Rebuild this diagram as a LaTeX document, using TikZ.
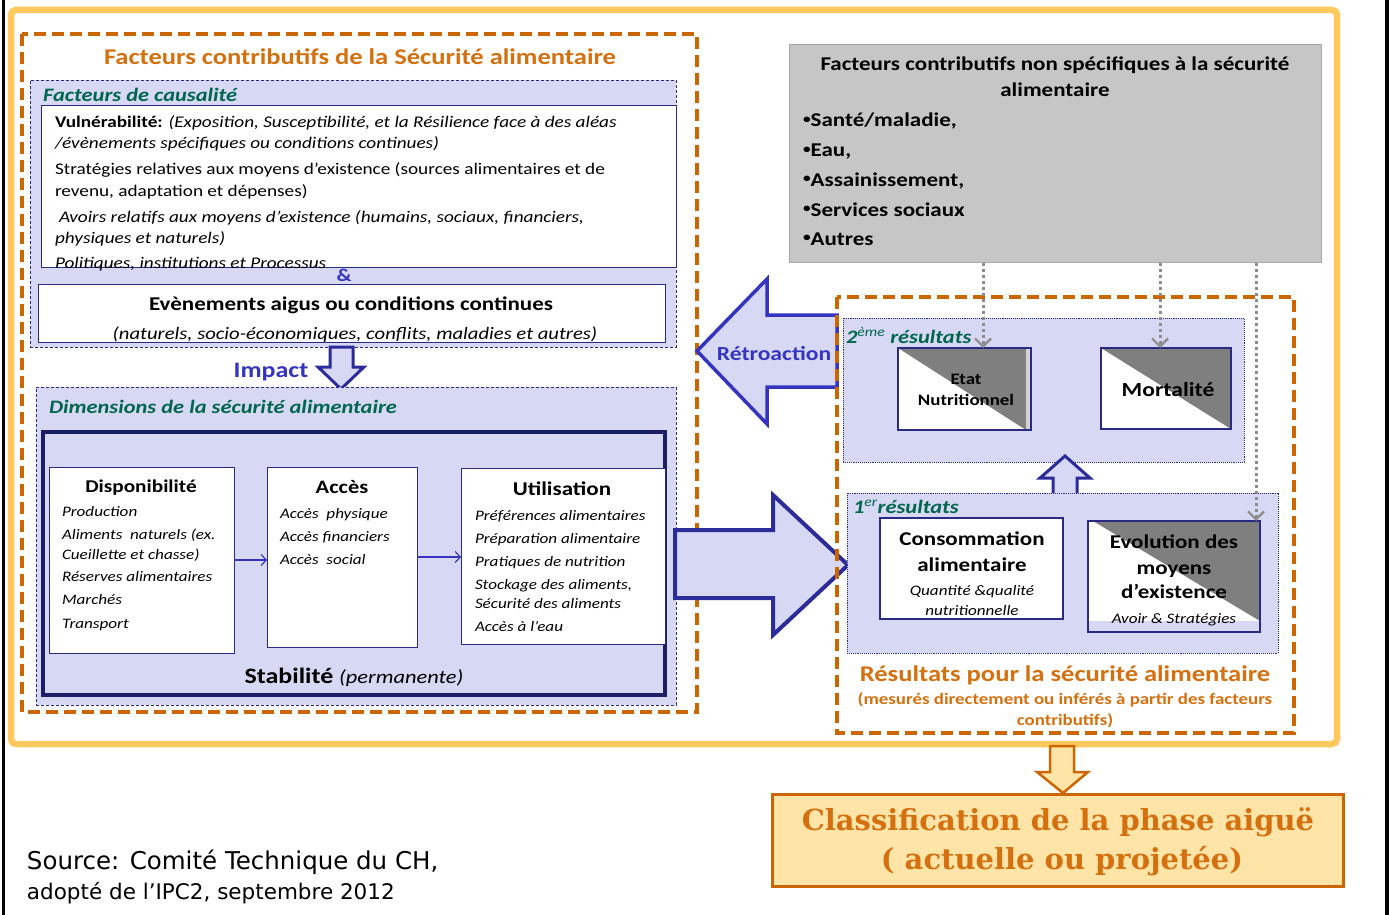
\documentclass[tikz,border=0pt]{standalone}
\usepackage{fontspec}
\setmainfont{Carlito}[FakeStretch=1.18]
\newfontfamily\srcfont{DejaVu Sans}
\newfontfamily\clsfont{DejaVu Serif}
\usetikzlibrary{arrows.meta}
\definecolor{frameY}{HTML}{FFC95E}
\definecolor{dashO}{HTML}{CC6600}
\definecolor{titleO}{HTML}{D5700F}
\definecolor{lav}{HTML}{D6D8F4}
\definecolor{navy}{HTML}{2A2A85}
\definecolor{deepnavy}{HTML}{1E1E66}
\definecolor{arrowB}{HTML}{2B2B99}
\definecolor{textB}{HTML}{3434C0}
\definecolor{greenT}{HTML}{00664D}
\definecolor{greyBox}{HTML}{C6C6C6}
\definecolor{triG}{HTML}{7F7F7F}
\definecolor{dotG}{HTML}{8C8C8C}
\definecolor{peach}{HTML}{FFE4A8}
\newcommand{\fsz}[1]{\fontsize{#1}{#1}\selectfont}
\newcommand{\bdot}{\raisebox{3.5pt}{\fsz{13}•}}
\begin{document}
\begin{tikzpicture}[x=1pt,y=-1pt,
  every node/.style={inner sep=0pt,outer sep=0pt},
  orangedash/.style={draw=dashO,line width=4pt,dash pattern=on 12pt off 6pt},
  lavbox/.style={draw=navy,fill=lav,line width=0.8pt,densely dashed},
  lavdot/.style={draw=navy,fill=lav,line width=0.9pt,densely dotted},
  whitebox/.style={draw=navy,fill=white,line width=1pt},
  rbox/.style={draw=navy,fill=white,line width=1.5pt},
  hollow/.style={draw=arrowB,fill=lav,line width=3pt,line join=miter},
  dotarrow/.style={draw=dotG,line width=3pt,dash pattern=on 3pt off 3pt,-{Straight Barb[length=8pt,width=16pt,line width=2.2pt]}},
  thinarrow/.style={draw=textB,line width=1.2pt,-{Straight Barb[length=5pt,width=11pt]}},
  grn/.style={text=greenT,font=\fsz{19}\bfseries\itshape},
  item/.style={anchor=base west,font=\fsz{14.5}\itshape},
  bul/.style={anchor=base west,font=\fsz{19.5}\bfseries}
]
\useasboundingbox (0,0) rectangle (1389,915);
\fill[white] (0,0) rectangle (1389,915);
\fill[black] (1.5,0) rectangle (5,915);
\fill[black] (1385,0) rectangle (1389,915);

% outer yellow frame
\draw[frameY,line width=6.5pt,rounded corners=5pt] (11,10) rectangle (1337,744);

% left orange dashed group
\draw[orangedash] (22,34) rectangle (697,712);
\node[anchor=base,text=titleO,font=\fsz{22.5}\bfseries] (ttl) at (360,65) {Facteurs contributifs de la Sécurité alimentaire};

% causal box
\node[lavbox,anchor=north west,minimum width=646pt,minimum height=267pt] (causal) at (30,80) {};
\node[grn,anchor=base west] (causalT) at (43,102) {Facteurs de causalité};
\node[whitebox,anchor=north west,minimum width=635pt,minimum height=161pt] (vuln) at (41,106) {};
\begin{scope}[every node/.append style={anchor=base west,font=\fsz{16.3}}]
\node (v1) at (55,128) {\textbf{Vulnérabilité:} \textit{(Exposition, Susceptibilité, et la Résilience face à des aléas}};
\node (v2) at (55,149) {\textit{/évènements spécifiques ou conditions continues)}};
\node (v3) at (55,175) {Stratégies relatives aux moyens d’existence (sources alimentaires et de};
\node (v4) at (55,196) {revenu, adaptation et dépenses)};
\node (v5) at (59,222) {\textit{Avoirs relatifs aux moyens d’existence (humains, sociaux, financiers,}};
\node (v6) at (55,243) {\textit{physiques et naturels)}};
\node (v7) at (55,268) {\textit{Politiques, institutions et Processus}};
\end{scope}
\node[anchor=base,text=textB,font=\fsz{18}\bfseries] (amp) at (344,281) {\&};
\node[whitebox,anchor=north west,minimum width=627pt,minimum height=58pt] (events) at (38,284) {};
\node[anchor=base,font=\fsz{19.5}\bfseries] (evT) at (351,310) {Evènements aigus ou conditions continues};
\node[anchor=base,font=\fsz{17.5}\itshape] (evS) at (355,339) {(naturels, socio-économiques, conflits, maladies et autres)};

% impact arrow
\draw[hollow] (330,347) -- (353,347) -- (353,367) -- (364,367) -- (341,389) -- (318,367) -- (330,367) -- cycle;
\node[anchor=base,text=textB,font=\fsz{22}\bfseries] (impact) at (271,377) {Impact};

% dimensions box
\node[lavbox,anchor=north west,minimum width=640pt,minimum height=318pt] (dims) at (36,387) {};
\node[grn,anchor=base west] (dimsT) at (49,413) {Dimensions de la sécurité alimentaire};
\node[draw=deepnavy,fill=lav,line width=4pt,anchor=north west,minimum width=622pt,minimum height=263pt] (stab) at (43,432) {};

\node[whitebox,anchor=north west,minimum width=185pt,minimum height=186pt] (dispo) at (49,467) {};
\node[whitebox,anchor=north west,minimum width=150pt,minimum height=180pt] (acces) at (267,467) {};
\node[whitebox,anchor=north west,minimum width=204pt,minimum height=176pt] (util) at (461,468) {};

\node[anchor=base,font=\fsz{18}\bfseries] (dispoT) at (141,492) {Disponibilité};
\node[item] (d1) at (62,516) {Production};
\node[item] (d2) at (62,539) {Aliments\ \ naturels (ex.};
\node[item] (d3) at (62,559) {Cueillette et chasse)};
\node[item] (d4) at (62,581) {Réserves alimentaires};
\node[item] (d5) at (62,604) {Marchés};
\node[item] (d6) at (62,628) {Transport};

\node[anchor=base,font=\fsz{19}\bfseries] (accesT) at (342,493) {Accès};
\node[item] (a1) at (280,518) {Accès\ \ physique};
\node[item] (a2) at (280,541) {Accès financiers};
\node[item] (a3) at (280,564) {Accès\ \ social};

\node[anchor=base,font=\fsz{19.5}\bfseries] (utilT) at (562,495) {Utilisation};
\node[item] (u1) at (475,520) {Préférences alimentaires};
\node[item] (u2) at (475,543) {Préparation alimentaire};
\node[item] (u3) at (475,566) {Pratiques de nutrition};
\node[item] (u4) at (475,589) {Stockage des aliments,};
\node[item] (u5) at (475,608) {Sécurité des aliments};
\node[item] (u6) at (475,631) {Accès à l’eau};

\draw[thinarrow] (dispo.east) -- (acces.west |- dispo.east);
\draw[thinarrow] (acces.east) -- (util.west |- acces.east);

\node[anchor=base,font=\fsz{22}\bfseries] (stabT) at (354,683) {Stabilité \fsz{19}\mdseries\itshape(permanente)};

% big right arrow
\draw[hollow,line width=4pt] (675,530) -- (773,530) -- (773,495) -- (848,565) -- (773,635) -- (773,598) -- (675,598) -- cycle;
% retroaction arrow
\draw[hollow,draw=textB,line width=3.5pt] (837,315) -- (767,315) -- (767,279) -- (697,351) -- (767,424) -- (767,387) -- (837,387) -- cycle;
\node[anchor=base,text=textB,font=\fsz{20}\bfseries] (retro) at (774,360) {Rétroaction};

% grey box
\node[draw=greyBox!85!black,fill=greyBox,line width=0.5pt,anchor=north west,minimum width=532pt,minimum height=218pt] (grey) at (789,44) {};
\node[anchor=base,font=\fsz{19.5}\bfseries] (g1) at (1055,71) {Facteurs contributifs non spécifiques à la sécurité};
\node[anchor=base,font=\fsz{19.5}\bfseries] (g2) at (1055,97) {alimentaire};
\node[bul] (b1) at (803,127) {\bdot Santé/maladie,};
\node[bul] (b2) at (803,157) {\bdot Eau,};
\node[bul] (b3) at (803,186) {\bdot Assainissement,};
\node[bul] (b4) at (803,216) {\bdot Services sociaux};
\node[bul] (b5) at (803,245) {\bdot Autres};

% right orange dashed group
\node[lavdot,anchor=north west,minimum width=401pt,minimum height=144pt] (res2) at (843,318) {};
\node[grn,anchor=base west] (res2T) at (846,343) {2\textsuperscript{\mdseries ème} résultats};

\node[rbox,anchor=north west,minimum width=133pt,minimum height=82pt] (etat) at (898,348) {};
\fill[triG] (898,348) -- (1026,348) -- (1026,430) -- cycle;
\fill[gray!35] (1026,348) rectangle (1031,430);
\draw[navy,line width=1.5pt] (etat.north west) rectangle (etat.south east);
\node[anchor=base,font=\fsz{16}\bfseries] (etat1) at (966,384) {Etat};
\node[anchor=base,font=\fsz{16}\bfseries] (etat2) at (966,405) {Nutritionnel};

\node[rbox,anchor=north west,minimum width=130pt,minimum height=81pt] (mort) at (1101,348) {};
\fill[triG] (1101,348) -- (1231,348) -- (1231,429) -- cycle;
\draw[navy,line width=1.5pt] (mort.north west) rectangle (mort.south east);
\node[anchor=base,font=\fsz{20}\bfseries] (mortT) at (1168,396) {Mortalité};

% up arrow
\draw[hollow] (1053,498) -- (1077,498) -- (1077,478) -- (1090,478) -- (1065,456) -- (1040,478) -- (1053,478) -- cycle;

\node[lavdot,anchor=north west,minimum width=431pt,minimum height=160pt] (res1) at (847,493) {};
\node[grn,anchor=base west] (res1T) at (853,513) {1\textsuperscript{\mdseries er}résultats};

\node[rbox,anchor=north west,minimum width=183pt,minimum height=101pt] (conso) at (880,518) {};
\node[anchor=base,font=\fsz{19.5}\bfseries] (c1) at (972,545) {Consommation};
\node[anchor=base,font=\fsz{19.5}\bfseries] (c2) at (972,571) {alimentaire};
\node[anchor=base,font=\fsz{14.5}\itshape] (c3) at (972,595) {Quantité \&qualité};
\node[anchor=base,font=\fsz{14.5}\itshape] (c4) at (972,615) {nutritionnelle};

\node[draw=navy,fill=lav,line width=1.5pt,anchor=north west,minimum width=172pt,minimum height=111pt] (evol) at (1088,521) {};
\fill[white] (1088,521) rectangle (1260,621);
\fill[triG] (1093,521) -- (1260,521) -- (1260,621) -- cycle;
\draw[navy,line width=1.5pt] (evol.north west) rectangle (evol.south east);
\node[anchor=base,font=\fsz{19.5}\bfseries] (e1) at (1174,548) {Evolution des};
\node[anchor=base,font=\fsz{19.5}\bfseries] (e2) at (1174,574) {moyens};
\node[anchor=base,font=\fsz{19.5}\bfseries] (e3) at (1174,598) {d’existence};
\node[anchor=base,font=\fsz{14.5}\itshape] (e4) at (1174,623) {Avoir \& Stratégies};

\node[anchor=base,text=titleO,font=\fsz{22.5}\bfseries] (resT) at (1065,681) {Résultats pour la sécurité alimentaire};
\node[anchor=base,text=titleO,font=\fsz{16}\bfseries] (resS1) at (1065,704) {(mesurés directement ou inférés à partir des facteurs};
\node[anchor=base,text=titleO,font=\fsz{16}\bfseries] (resS2) at (1065,725) {contributifs)};

\draw[orangedash] (837,297) rectangle (1294,733);

% dotted connectors
\coordinate (p1) at (983,263);
\coordinate (p2) at (1160,263);
\coordinate (p3) at (1256,263);
\draw[dotarrow] (p1) -- (p1 |- etat.north);
\draw[dotarrow] (p2) -- (p2 |- mort.north);
\draw[dotarrow] (p3) -- (p3 |- evol.north);

% bottom arrow and classification box
\draw[draw=dashO,fill=peach,line width=2.5pt,line join=miter] (1050,746) -- (1074,746) -- (1074,772) -- (1088,772) -- (1063,793) -- (1037,772) -- (1050,772) -- cycle;
\node[draw=dashO,fill=peach,line width=3pt,anchor=north west,minimum width=571pt,minimum height=92pt] (cls) at (772,794) {};
\node[anchor=base,text=titleO,font=\clsfont\fsz{29}\bfseries] (cls1) at (1058,830) {Classification de la phase aiguë};
\node[anchor=base,text=titleO,font=\clsfont\fsz{29}\bfseries] (cls2) at (1062,869) {( actuelle ou projetée)};

% source
\node[anchor=base west,font=\srcfont\fsz{24.5}] (src1) at (27,869) {Source: Comité Technique du CH,};
\node[anchor=base west,font=\srcfont\fsz{21.5}] (src2) at (27,899) {adopté de l’IPC2, septembre 2012};
\end{tikzpicture}
\end{document}
